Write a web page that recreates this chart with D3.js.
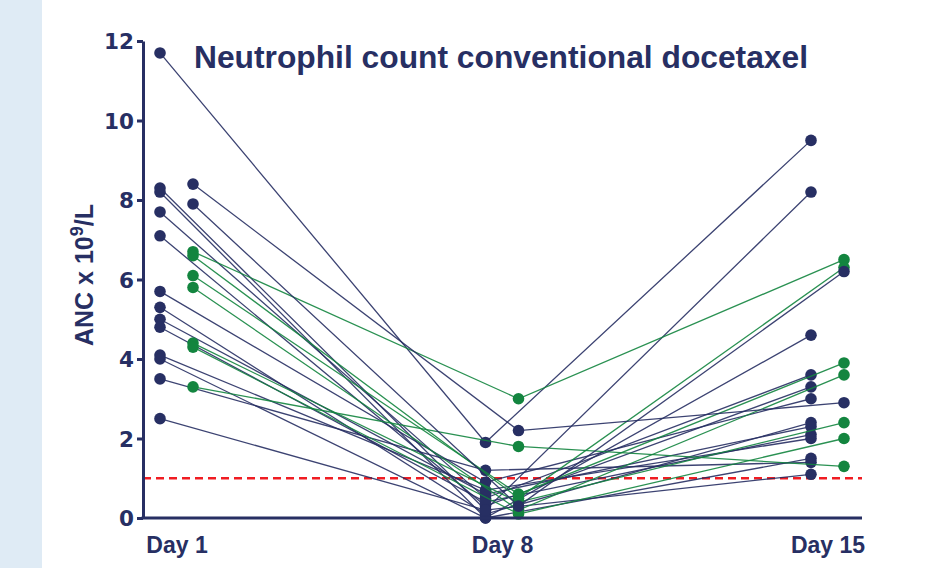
<!DOCTYPE html>
<html><head><meta charset="utf-8">
<script src="https://cdn.jsdelivr.net/npm/d3@7"></script>
<style>body{margin:0;background:#fff}svg{display:block}</style>
</head><body>
<svg id="c" width="936" height="568"></svg>
<script>
const days = ["Day 1","Day 8","Day 15"];
const yTicks = [0,2,4,6,8,10,12];
const threshold = 1;
// Cohort A (left offset), all navy
const groupA = [
  [11.7,1.9,9.5],[8.3,0.2,8.2],[8.2,0.0,4.6],[7.7,0.5,3.6],[7.1,0.3,3.3],
  [5.7,0.9,3.0],[5.3,0.1,2.4],[5.0,0.6,2.3],[4.8,0.4,2.1],[4.1,0.7,2.0],
  [4.0,0.0,1.5],[3.5,1.2,1.4],[2.5,0.2,1.1]
];
// Cohort B (right offset), navy patients
const groupBNavy = [[8.4,2.2,2.9],[7.9,0.3,6.2]];
// Cohort B, green patients
const groupBGreen = [
  [6.7,3.0,6.5],[6.6,0.5,6.3],[6.1,0.6,3.9],[5.8,0.2,3.6],
  [4.4,0.4,2.4],[4.3,0.1,2.0],[3.3,1.8,1.3]
];

const navy="#272f63", green="#13853f";
const font="Liberation Sans, Arial, sans-serif";
const svg=d3.select("#c");
svg.append("rect").attr("x",0).attr("y",0).attr("width",42).attr("height",568).attr("fill","#dfebf5");

const x=d3.scalePoint().domain(days).range([176.5,827.5]);
const off=16.5;
const y=d3.scaleLinear().domain([0,12]).range([518,41]);

const g=svg.append("g");
g.append("line").attr("x1",143).attr("x2",862).attr("y1",y(threshold)).attr("y2",y(threshold))
 .attr("stroke","#f01c22").attr("stroke-width",2.4).attr("stroke-dasharray","8,5");

function draw(data,dx,color){
  const line=d3.line().x((d,i)=>x(days[i])+dx).y(d=>y(d));
  g.selectAll(null).data(data).enter().append("path")
   .attr("d",d=>line(d)).attr("fill","none").attr("stroke",color).attr("stroke-width",1.3).attr("stroke-opacity",0.9);
  data.forEach(p=>{
    g.selectAll(null).data(p).enter().append("circle")
     .attr("cx",(d,i)=>x(days[i])+dx).attr("cy",d=>y(d)).attr("r",5.8).attr("fill",color);
  });
}
draw(groupA,-off,navy);
draw(groupBGreen,off,green);
draw(groupBNavy,off,navy);

// axes
const yAxis=d3.axisLeft(y).tickValues(yTicks).tickSize(6).tickPadding(3).tickSizeOuter(0);
const ya=svg.append("g").attr("transform","translate(143,0)").call(yAxis);
ya.select(".domain").attr("stroke",navy).attr("stroke-width",3);
ya.selectAll(".tick line").attr("stroke",navy).attr("stroke-width",3);
ya.selectAll(".tick text").attr("fill",navy).style("font-family","DejaVu Sans, sans-serif")
  .style("font-weight","bold").style("font-size","21.5px").attr("dy","0.36em");

svg.append("line").attr("x1",141.5).attr("x2",862).attr("y1",518).attr("y2",518).attr("stroke",navy).attr("stroke-width",3);
const xa=svg.append("g").attr("transform","translate(0,518)").call(d3.axisBottom(x).tickSize(0).tickPadding(18));
xa.select(".domain").remove();
xa.selectAll(".tick text").attr("fill",navy).attr("dy",null).attr("y",35).style("font-family",font)
  .style("font-weight","bold").style("font-size","23px");

svg.append("text").attr("transform","translate(93,275) rotate(-90)").attr("text-anchor","middle")
  .attr("fill",navy).style("font-family",font).style("font-weight","bold").style("font-size","25px")
  .html('ANC x 10<tspan dy="-10" font-size="18">9</tspan><tspan dy="10">/L</tspan>');

svg.append("text").attr("x",194).attr("y",68).attr("fill",navy)
  .attr("textLength",614).attr("lengthAdjust","spacingAndGlyphs")
  .style("font-family",font).style("font-weight","bold").style("font-size","31px")
  .text("Neutrophil count conventional docetaxel");
</script>
</body></html>
